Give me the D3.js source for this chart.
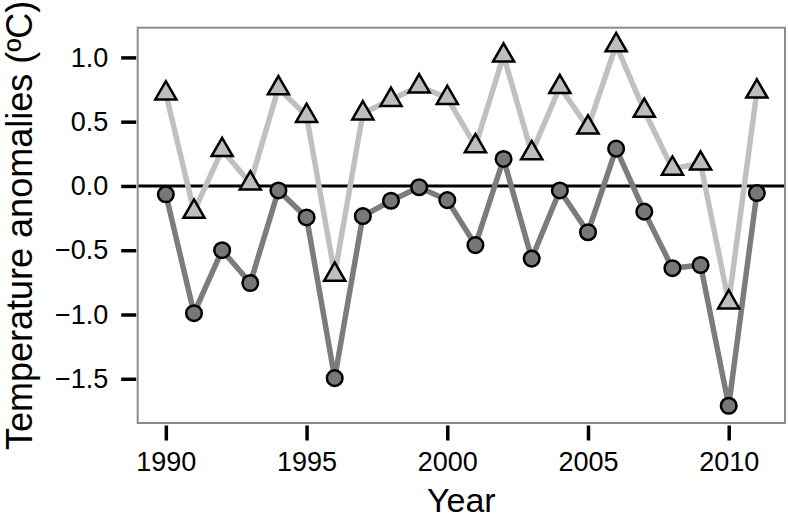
<!DOCTYPE html>
<html>
<head>
<meta charset="utf-8">
<script src="https://cdn.jsdelivr.net/npm/d3@7"></script>
<style>
  body { margin: 0; background: #fff; }
  svg { display: block; font-family: "Liberation Sans", Arial, sans-serif; }
</style>
</head>
<body>
<div class="container"></div>
<script>
const years = d3.range(1990, 2012);
// triangles (light series)
const upper = [0.72, -0.20, 0.28, 0.02, 0.76, 0.545, -0.69, 0.565, 0.67, 0.775, 0.685, 0.31,
               1.015, 0.255, 0.77, 0.455, 1.095, 0.585, 0.135, 0.175, -0.905, 0.735];
// circles (dark series)
const lower = [-0.065, -0.99, -0.50, -0.755, -0.035, -0.245, -1.495, -0.235, -0.115, -0.01, -0.11, -0.46,
               0.21, -0.565, -0.035, -0.36, 0.29, -0.20, -0.64, -0.615, -1.71, -0.055];
const xTicks = [1990, 1995, 2000, 2005, 2010];
const yTicks = [1.0, 0.5, 0.0, -0.5, -1.0, -1.5];

const w = 788, h = 518;
const pLeft = 137.7, pRight = 785, pTop = 27.7, pBottom = 423;

const svg = d3.select('.container')
    .append('svg')
    .attr('width', w)
    .attr('height', h);

const x = d3.scaleLinear().domain([1989, 2012]).range([pLeft, pRight]);
const y = d3.scaleLinear().domain([-1.844, 1.231]).range([pBottom, pTop]);

// zero line
svg.append('line')
    .attr('x1', pLeft).attr('x2', pRight)
    .attr('y1', y(0)).attr('y2', y(0))
    .attr('stroke', '#000')
    .attr('stroke-width', 3);

const line = d3.line().x((d, i) => x(years[i])).y(d => y(d));

svg.append('path')
    .attr('d', line(upper))
    .attr('fill', 'none')
    .attr('stroke', '#c0c0c0')
    .attr('stroke-width', 5.5);

svg.append('path')
    .attr('d', line(lower))
    .attr('fill', 'none')
    .attr('stroke', '#7c7c7c')
    .attr('stroke-width', 5.5);

// triangles, centred like R pch 24 (apex r above, base r/2 below)
const r = 12.2;
const tri = `M0,${-r}L${r * 0.866},${r / 2}L${-r * 0.866},${r / 2}Z`;
svg.selectAll('path.tri')
    .data(upper)
    .enter()
    .append('path')
    .attr('class', 'tri')
    .attr('d', tri)
    .attr('transform', (d, i) => `translate(${x(years[i])},${y(d)})`)
    .attr('fill', '#bdbdbd')
    .attr('stroke', '#000')
    .attr('stroke-width', 2.5)
    .attr('stroke-linejoin', 'miter');

svg.selectAll('circle.pt')
    .data(lower)
    .enter()
    .append('circle')
    .attr('class', 'pt')
    .attr('cx', (d, i) => x(years[i]))
    .attr('cy', d => y(d))
    .attr('r', 7.8)
    .attr('fill', '#777')
    .attr('stroke', '#000')
    .attr('stroke-width', 2.5);

// panel border
svg.append('rect')
    .attr('x', pLeft).attr('y', pTop)
    .attr('width', pRight - pLeft).attr('height', pBottom - pTop)
    .attr('fill', 'none')
    .attr('stroke', '#8c8c8c')
    .attr('stroke-width', 2);

// axes
const yAxis = d3.axisLeft(y)
    .tickValues(yTicks)
    .tickSize(15)
    .tickPadding(13)
    .tickFormat(d => d3.format('.1f')(d).replace('-', '\u2212'));
svg.append('g')
    .attr('transform', `translate(${pLeft - 1.5},0)`)
    .call(yAxis)
    .call(g => g.select('.domain').remove())
    .call(g => g.selectAll('line').attr('stroke', '#000').attr('stroke-width', 3.5))
    .call(g => g.selectAll('text').attr('fill', '#000').style('font-size', '27px')
        .style('font-family', '"Liberation Sans", Arial, sans-serif'));

const xAxis = d3.axisBottom(x)
    .tickValues(xTicks)
    .tickSize(15)
    .tickPadding(11)
    .tickFormat(d3.format('d'));
svg.append('g')
    .attr('transform', `translate(0,${pBottom + 2.5})`)
    .call(xAxis)
    .call(g => g.select('.domain').remove())
    .call(g => g.selectAll('line').attr('stroke', '#000').attr('stroke-width', 3.5))
    .call(g => g.selectAll('text').attr('fill', '#000').style('font-size', '27px')
        .style('font-family', '"Liberation Sans", Arial, sans-serif'));

// axis titles
svg.append('text')
    .attr('x', (pLeft + pRight) / 2)
    .attr('y', 512)
    .attr('text-anchor', 'middle')
    .style('font-size', '34px')
    .text('Year');

svg.append('text')
    .attr('transform', `translate(32,${(pTop + pBottom) / 2}) rotate(-90)`)
    .attr('text-anchor', 'middle')
    .style('font-size', '36px')
    .text('Temperature anomalies (ºC)');
</script>
</body>
</html>
